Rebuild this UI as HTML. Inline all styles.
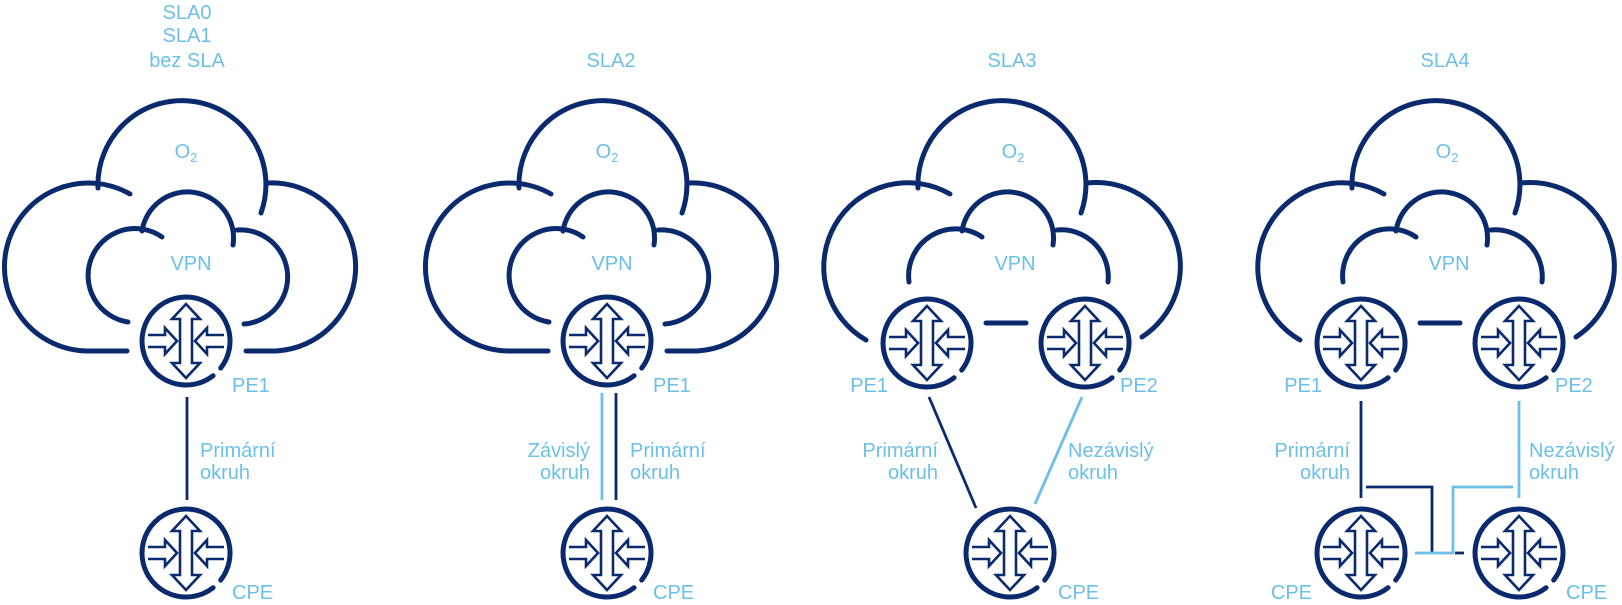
<!DOCTYPE html>
<html><head><meta charset="utf-8"><style>
html,body{margin:0;padding:0;background:#fff;}
svg{display:block;}
text{font-family:"Liberation Sans",sans-serif;font-size:20px;fill:#6cbfe9;}
</style></head><body>
<svg width="1622" height="605" viewBox="0 0 1622 605" xmlns="http://www.w3.org/2000/svg">
<defs>
<g id="rt">
  <path d="M27.1 34.7 A44 44 0 1 1 34.7 27.1" fill="none" stroke="#0b2a6e" stroke-width="5" stroke-linecap="round"/>
  <g fill="none" stroke="#0b2a6e" stroke-width="2.6" stroke-linejoin="miter">
    <path d="M-6 -22 L-14 -22 L0 -37 L14 -22 L6 -22 L6 22 L14 22 L0 37 L-14 22 L-6 22 Z"/>
    <path d="M-38 -6 L-21 -6 L-21 -13 L-9 0 L-21 13 L-21 6 L-38 6"/>
    <path d="M38 -6 L21 -6 L21 -13 L9 0 L21 13 L21 6 L38 6"/>
  </g>
</g>
<g id="cloudA" fill="none" stroke="#0b2a6e" stroke-width="5" stroke-linecap="round">
  <path d="M98 188 A84 84 0 1 1 261 213"/>
  <path d="M130 194 A84 84 0 1 0 88 351 L127 351"/>
  <path d="M267 183 A84 84 0 1 1 276 351 L246 351"/>
  <path d="M142 231 A46 46 0 1 1 233 245"/>
  <path d="M162 237 A47 47 0 1 0 128 322"/>
  <path d="M237 230 A47 47 0 1 1 244 324"/>
</g>
<g id="cloudB" fill="none" stroke="#0b2a6e" stroke-width="5" stroke-linecap="round">
  <path d="M98 188 A84 84 0 1 1 261 213"/>
  <path d="M130 194 A84 84 0 1 0 46 340"/>
  <path d="M267 183 A84 84 0 0 1 322 337"/>
  <path d="M142 231 A46 46 0 1 1 233 245"/>
  <path d="M162 237 A47 47 0 0 0 89 282"/>
  <path d="M237 230 A47 47 0 0 1 288 282"/>
  <path d="M166 323 L206 323"/>
</g>
</defs>

<!-- Panel 1 -->
<g>
  <text x="187" y="19" text-anchor="middle">SLA0</text>
  <text x="187" y="42" text-anchor="middle">SLA1</text>
  <text x="187" y="67" text-anchor="middle">bez SLA</text>
  <use href="#cloudA"/>
  <text x="186" y="158" text-anchor="middle">O<tspan font-size="13" dy="4">2</tspan></text>
  <text x="191" y="270" text-anchor="middle">VPN</text>
  <use href="#rt" transform="translate(186,341)"/>
  <use href="#rt" transform="translate(186,553)"/>
  <text x="232" y="392">PE1</text>
  <text x="232" y="599">CPE</text>
  <line x1="187" y1="397" x2="187" y2="500" stroke="#0b2a6e" stroke-width="2.8"/>
  <text x="200" y="457">Primární</text>
  <text x="200" y="479">okruh</text>
</g>

<!-- Panel 2 -->
<g transform="translate(421,0)">
  <text x="190" y="67" text-anchor="middle">SLA2</text>
  <use href="#cloudA"/>
  <text x="186" y="158" text-anchor="middle">O<tspan font-size="13" dy="4">2</tspan></text>
  <text x="191" y="270" text-anchor="middle">VPN</text>
  <use href="#rt" transform="translate(186,341)"/>
  <use href="#rt" transform="translate(186,553)"/>
  <text x="232" y="392">PE1</text>
  <text x="232" y="599">CPE</text>
  <line x1="181" y1="393" x2="181" y2="500" stroke="#6cbfe9" stroke-width="2.8"/>
  <line x1="195" y1="393" x2="195" y2="500" stroke="#0b2a6e" stroke-width="2.8"/>
  <text x="169" y="457" text-anchor="end">Závislý</text>
  <text x="169" y="479" text-anchor="end">okruh</text>
  <text x="209" y="457">Primární</text>
  <text x="209" y="479">okruh</text>
</g>

<!-- Panel 3 -->
<g transform="translate(820,0)">
  <text x="192" y="67" text-anchor="middle">SLA3</text>
  <use href="#cloudB"/>
  <text x="193" y="158" text-anchor="middle">O<tspan font-size="13" dy="4">2</tspan></text>
  <text x="195" y="270" text-anchor="middle">VPN</text>
  <use href="#rt" transform="translate(107,343)"/>
  <use href="#rt" transform="translate(265,343)"/>
  <use href="#rt" transform="translate(190,553)"/>
  <text x="68" y="392" text-anchor="end">PE1</text>
  <text x="300" y="392">PE2</text>
  <text x="238" y="599">CPE</text>
  <line x1="109" y1="397" x2="156" y2="508" stroke="#0b2a6e" stroke-width="2.8"/>
  <line x1="262" y1="397" x2="215" y2="504" stroke="#6cbfe9" stroke-width="2.8"/>
  <text x="118" y="457" text-anchor="end">Primární</text>
  <text x="118" y="479" text-anchor="end">okruh</text>
  <text x="248" y="457">Nezávislý</text>
  <text x="248" y="479">okruh</text>
</g>

<!-- Panel 4 -->
<g transform="translate(1254,0)">
  <text x="191" y="67" text-anchor="middle">SLA4</text>
  <use href="#cloudB"/>
  <text x="193" y="158" text-anchor="middle">O<tspan font-size="13" dy="4">2</tspan></text>
  <text x="195" y="270" text-anchor="middle">VPN</text>
  <use href="#rt" transform="translate(107,343)"/>
  <use href="#rt" transform="translate(265,343)"/>
  <use href="#rt" transform="translate(107,553)"/>
  <use href="#rt" transform="translate(265,553)"/>
  <text x="68" y="392" text-anchor="end">PE1</text>
  <text x="301" y="392">PE2</text>
  <text x="58" y="599" text-anchor="end">CPE</text>
  <text x="312" y="599">CPE</text>
  <g fill="none" stroke-width="2.8">
    <path d="M107 401 L107 498" stroke="#0b2a6e"/>
    <path d="M112 487 L178 487 L178 553" stroke="#0b2a6e"/>
    <path d="M201 553 L210 553" stroke="#0b2a6e"/>
    <path d="M265 401 L265 498" stroke="#6cbfe9"/>
    <path d="M259 487 L199 487 L199 553 L161 553" stroke="#6cbfe9"/>
  </g>
  <text x="96" y="457" text-anchor="end">Primární</text>
  <text x="96" y="479" text-anchor="end">okruh</text>
  <text x="275" y="457">Nezávislý</text>
  <text x="275" y="479">okruh</text>
</g>
</svg>
</body></html>
